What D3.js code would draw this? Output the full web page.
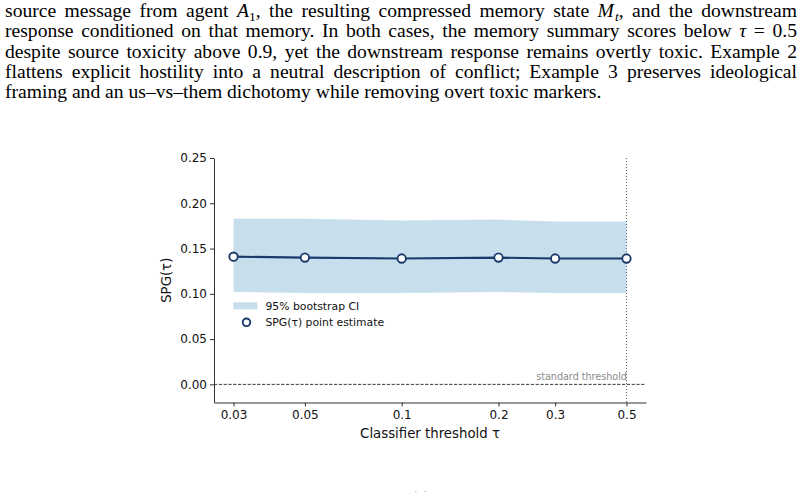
<!DOCTYPE html>
<html>
<head>
<meta charset="utf-8">
<script src="https://cdn.jsdelivr.net/npm/d3@7"></script>
<style>
  html, body { margin: 0; padding: 0; background: #fff; }
  body { width: 804px; height: 492px; overflow: hidden; position: relative; }
  #para { position: absolute; left: 5px; top: 1px; width: 792px;
          font-family: "Liberation Serif", "Times New Roman", serif; font-size: 19.6px; color: #000; }
  .ln { height: 20.3px; line-height: 20.3px; white-space: nowrap; }
  .ln span.inner { display: inline-block; }
  sub { font-size: 13.5px; vertical-align: baseline; position: relative; top: 4px; line-height: 0; }
  svg { position: absolute; left: 0; top: 0; }
</style>
</head>
<body>
<div id="para">
  <div class="ln j"><span class="inner">source message from agent <i>A</i><sub>1</sub>, the resulting compressed memory state <i>M<sub style="margin-left:1px">t</sub></i>, and the downstream</span></div>
  <div class="ln j"><span class="inner">response conditioned on that memory. In both cases, the memory summary scores below <i>τ</i> = 0.5</span></div>
  <div class="ln j"><span class="inner">despite source toxicity above 0.9, yet the downstream response remains overtly toxic. Example 2</span></div>
  <div class="ln j"><span class="inner">flattens explicit hostility into a neutral description of conflict; Example 3 preserves ideological</span></div>
  <div class="ln"><span class="inner">framing and an us–vs–them dichotomy while removing overt toxic markers.</span></div>
</div>
<svg id="chart" width="804" height="492"></svg>
<script>
const taus = [0.03, 0.05, 0.1, 0.2, 0.3, 0.5];
const tauLabels = ["0.03", "0.05", "0.1", "0.2", "0.3", "0.5"];
const spg = [0.141, 0.140, 0.139, 0.140, 0.139, 0.139];
const ciLower = [0.102, 0.101, 0.101, 0.102, 0.101, 0.101];
const ciUpper = [0.183, 0.183, 0.181, 0.182, 0.180, 0.180];
const yTicks = [0.00, 0.05, 0.10, 0.15, 0.20, 0.25];
const standardThreshold = 0.5;
const legendLabels = ["95% bootstrap CI", "SPG(τ) point estimate"];

// justify paragraph lines by word spacing
document.querySelectorAll("#para .ln.j").forEach(ln => {
  const inner = ln.querySelector(".inner");
  const w = inner.getBoundingClientRect().width;
  const spaces = (inner.textContent.match(/ /g) || []).length;
  if (spaces > 0) inner.style.wordSpacing = ((792 - w) / spaces) + "px";
});

const navy = "#1b3a6b";
const band = "#c7dfed";
const font = "DejaVu Sans, sans-serif";
const ink = "#111";

const svg = d3.select("#chart");
const x = d3.scaleLog().domain([0.03 / 1.15, 0.5 * 1.15]).range([214, 646]);
const y = d3.scaleLinear().domain([-0.02, 0.25]).range([402.5, 158]);

const data = taus.map((t, i) => ({ t, v: spg[i], lo: ciLower[i], hi: ciUpper[i] }));

// CI band
svg.append("path").datum(data)
  .attr("fill", band)
  .attr("d", d3.area().x(d => x(d.t)).y0(d => y(d.lo)).y1(d => y(d.hi)));

// zero dashed line
svg.append("line")
  .attr("x1", x.range()[0]).attr("x2", x.range()[1])
  .attr("y1", y(0)).attr("y2", y(0))
  .attr("stroke", "#222").attr("stroke-width", 0.9).attr("stroke-dasharray", "3.2,1.6");

// vertical dotted threshold
svg.append("line")
  .attr("x1", x(standardThreshold)).attr("x2", x(standardThreshold))
  .attr("y1", y.range()[1]).attr("y2", y.range()[0])
  .attr("stroke", "#555").attr("stroke-width", 0.9).attr("stroke-dasharray", "1,2");

svg.append("text")
  .attr("x", x(standardThreshold) + 0.5).attr("y", y(0) - 4.5)
  .attr("text-anchor", "end")
  .attr("font-family", font).attr("font-size", 9.6).attr("fill", "#8a8a8a")
  .text("standard threshold");

// line
svg.append("path").datum(data)
  .attr("fill", "none").attr("stroke", navy).attr("stroke-width", 2.2)
  .attr("d", d3.line().x(d => x(d.t)).y(d => y(d.v)));

svg.selectAll("circle.pt").data(data).join("circle")
  .attr("class", "pt")
  .attr("cx", d => x(d.t)).attr("cy", d => y(d.v)).attr("r", 4.2)
  .attr("fill", "#fff").attr("stroke", navy).attr("stroke-width", 1.9);

// axes
const xAxis = d3.axisBottom(x).tickValues(taus).tickFormat((d, i) => tauLabels[i])
  .tickSize(4).tickSizeOuter(0);
const gx = svg.append("g").attr("transform", `translate(0,${y.range()[0]})`).call(xAxis);
const yAxis = d3.axisLeft(y).tickValues(yTicks).tickFormat(d3.format(".2f"))
  .tickSize(4).tickSizeOuter(0);
const gy = svg.append("g").attr("transform", `translate(${x.range()[0]},0)`).call(yAxis);

[gx, gy].forEach(g => {
  g.select(".domain").attr("stroke", "#333").attr("stroke-width", 1);
  g.selectAll(".tick line").attr("stroke", "#333").attr("stroke-width", 1);
  g.selectAll(".tick text").attr("font-family", font).attr("font-size", 12).attr("fill", ink);
});
gx.selectAll(".tick text").attr("dy", "0.71em").attr("y", 8);
gy.selectAll(".tick text").attr("x", -7);

// axis labels
svg.append("text")
  .attr("x", (x.range()[0] + x.range()[1]) / 2).attr("y", 437.5)
  .attr("text-anchor", "middle").attr("font-family", font).attr("font-size", 13.3).attr("fill", ink)
  .text("Classifier threshold τ");
svg.append("text")
  .attr("transform", `translate(171,${(y.range()[0] + y.range()[1]) / 2}) rotate(-90)`)
  .attr("text-anchor", "middle").attr("font-family", font).attr("font-size", 13.3).attr("fill", ink)
  .text("SPG(τ)");

// legend
const lg = svg.append("g");
lg.append("rect").attr("x", 233.3).attr("y", 302.3).attr("width", 24).attr("height", 7).attr("fill", band);
lg.append("circle").attr("cx", 246.5).attr("cy", 322.3).attr("r", 3.8)
  .attr("fill", "#fff").attr("stroke", navy).attr("stroke-width", 1.9);
legendLabels.forEach((t, i) => {
  lg.append("text").attr("x", 265.5).attr("y", 305.8 + i * 16.5).attr("dy", "0.35em")
    .attr("font-family", font).attr("font-size", 10.8).attr("fill", ink).text(t);
});

// caption (cut off at bottom)
svg.append("text").attr("x", 420.5).attr("y", 503)
  .attr("text-anchor", "middle").attr("font-family", "Liberation Serif, serif").attr("font-size", 17)
  .attr("fill", "#000").text("(a)");
</script>
</body>
</html>
